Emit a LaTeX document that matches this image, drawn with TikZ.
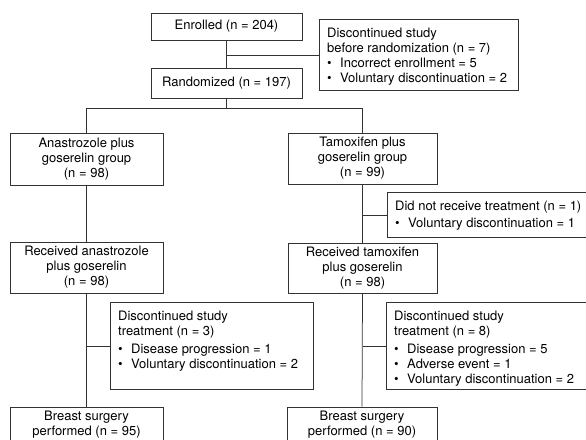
\documentclass[tikz,border=0pt]{standalone}
\usepackage{fontspec}
\setmainfont{TeX Gyre Heros}
\usetikzlibrary{calc}
\newcommand\blt{\makebox[13pt][l]{\textbullet}}
\tikzset{
  mainbox/.style={draw=black!80, line width=0.75pt, inner sep=0pt, align=center,
    font=\fontsize{13}{15}\selectfont},
  sidebox/.style={draw=black!80, line width=0.75pt, inner sep=0pt, anchor=north west},
  sidetext/.style={anchor=north west, inner sep=0pt, align=left,
    font=\fontsize{13}{15}\selectfont},
  link/.style={draw=black!80, line width=0.75pt}
}
\begin{document}
\begin{tikzpicture}[x=1pt,y=-1pt]
\useasboundingbox (0,0) rectangle (586,439);
\clip (0,0) rectangle (586,439);
% main column boxes
\node[mainbox, minimum width=151pt, minimum height=27pt] (enr) at (226.5,26.5) {Enrolled (n = 204)};
\node[mainbox, minimum width=151pt, minimum height=30pt] (rand) at (226.5,83) {Randomized (n = 197)};
\node[mainbox, minimum width=153pt, minimum height=52pt] (anas) at (86.5,159) {Anastrozole plus\\goserelin group\\(n = 98)};
\node[mainbox, minimum width=149pt, minimum height=51pt] (tam) at (362.5,158.5) {Tamoxifen plus\\goserelin group\\(n = 99)};
\node[mainbox, minimum width=153pt, minimum height=51pt] (reca) at (86.5,267.5) {Received anastrozole\\plus goserelin\\(n = 98)};
\node[mainbox, minimum width=149pt, minimum height=50pt] (rect) at (362.5,268) {Received tamoxifen\\plus goserelin\\(n = 98)};
\node[mainbox, minimum width=153pt, minimum height=36pt] (surga) at (86.5,425) {Breast surgery\\performed (n = 95)};
\node[mainbox, minimum width=150pt, minimum height=36pt] (surgt) at (362,425) {Breast surgery\\performed (n = 90)};
% side boxes
\node[sidebox, minimum width=199pt, minimum height=71pt] (disc) at (319,19) {};
\node[sidetext] (disctxt) at ($(disc.north west)+(8,8.5)$) {Discontinued study\\before randomization (n = 7)\\\blt Incorrect enrollment = 5\\\blt Voluntary discontinuation = 2};
\node[sidebox, minimum width=220pt, minimum height=45pt] (dnr) at (387,192) {};
\node[sidetext] (dnrtxt) at ($(dnr.north west)+(8,9)$) {Did not receive treatment (n = 1)\\[2pt]\blt Voluntary discontinuation = 1};
\node[sidebox, minimum width=203pt, minimum height=87pt] (disca) at (110,302) {};
\node[sidetext] (discatxt) at ($(disca.north west)+(8,8.5)$) {Discontinued study\\treatment (n = 3)\\[3pt]\blt Disease progression = 1\\\blt Voluntary discontinuation = 2};
\node[sidebox, minimum width=220pt, minimum height=87pt] (disct) at (386,302) {};
\node[sidetext] (discttxt) at ($(disct.north west)+(8,8.5)$) {Discontinued study\\treatment (n = 8)\\[3pt]\blt Disease progression = 5\\\blt Adverse event = 1\\\blt Voluntary discontinuation = 2};
% connectors
\draw[link] (enr.south) -- (rand.north);
\draw[link] (enr.south |- disc.west) -- (disc.west);
\coordinate (split) at ($(rand.south)+(0,10)$);
\draw[link] (rand.south) -- (split);
\draw[link] (anas.north) |- (split) -| (tam.north);
\draw[link] (anas.south) -- (reca.north);
\draw[link] (tam.south) -- (rect.north);
\draw[link] (tam.south |- dnr.west) -- (dnr.west);
\draw[link] (reca.south) -- (surga.north);
\draw[link] (reca.south |- disca.west) -- (disca.west);
\draw[link] (rect.south) -- (surgt.north);
\draw[link] (rect.south |- disct.west) -- (disct.west);
\end{tikzpicture}
\end{document}
